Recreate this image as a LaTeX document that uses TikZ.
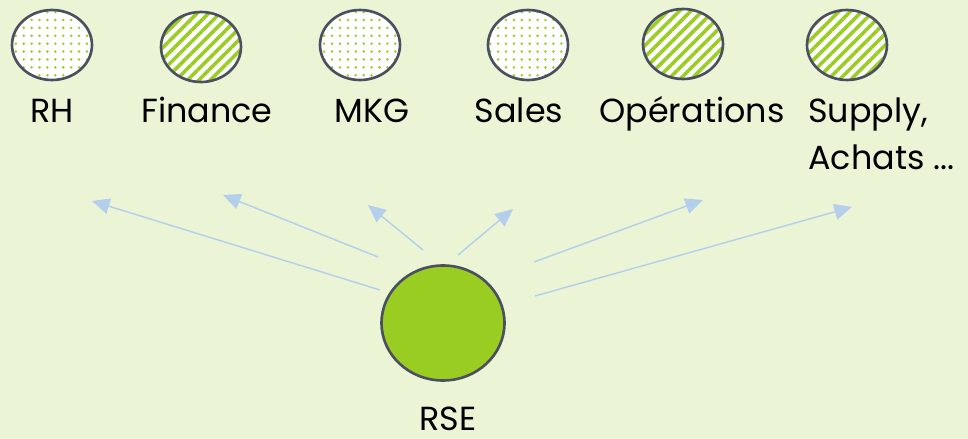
\documentclass[tikz,border=0pt]{standalone}
\usepackage{fontspec}
\setmainfont{Poppins}
\usetikzlibrary{shapes.geometric,positioning,arrows.meta,patterns.meta}
\definecolor{bgcol}{RGB}{235,245,213}
\definecolor{rsegreen}{RGB}{154,205,34}
\definecolor{rimgray}{RGB}{74,80,96}
\definecolor{arrowblue}{RGB}{180,207,236}
\tikzset{dept/.style={
			  ellipse,
			  draw            = rimgray,
			  line width      = 1.5pt,
			  minimum width   = 1.6cm,
			  minimum height  = 1.4cm,
			  inner sep       = 0pt,
			  preaction       = {fill=white}
			}}
\tikzset{dotted dept/.style={
			  dept,
			  pattern         = {Dots[distance=4.5pt, radius=0.8pt]},
			  pattern color   = rsegreen
			}}
\tikzset{striped dept/.style={
			  dept,
			  pattern         = {Lines[angle=45, distance=4.6pt, line width=2pt]},
			  pattern color   = rsegreen
			}}
\tikzset{rsebox/.style={
			  ellipse,
			  draw            = rimgray,
			  line width      = 1.5pt,
			  fill            = rsegreen,
			  minimum width   = 2.46cm,
			  minimum height  = 2.3cm,
			  inner sep       = 0pt
			}}
\tikzset{labeltext/.style={
			  font            = \fontsize{19}{27}\selectfont,
			  text            = black,
			  inner sep       = 0pt
			}}
\tikzset{arrowline/.style={
			  draw            = arrowblue,
			  line width      = 0.8pt,
			  -{Triangle[length=10pt, width=9pt]}
			}}
\begin{document}
\begin{tikzpicture}[x=0.02cm, y=-0.02cm]
    \fill[bgcol] (0,0) rectangle (968,439);
    \useasboundingbox (0,0) rectangle (968,439);

    \node (rh)        [dotted dept]  at (52,45)   {};
    \node (finance)   [striped dept] at (201,47)  {};
    \node (mkg)       [dotted dept]  at (360,45)  {};
    \node (sales)     [dotted dept]  at (528,45)  {};
    \node (ops)       [striped dept] at (683,44)  {};
    \node (supply)    [striped dept] at (847,45)  {};

    \node (rh-label)      [labeltext, anchor=base]      at (52,123)  {RH};
    \node (finance-label) [labeltext, anchor=base]      at (207,123) {Finance};
    \node (mkg-label)     [labeltext, anchor=base]      at (372,123) {MKG};
    \node (sales-label)   [labeltext, anchor=base]      at (519,123) {Sales};
    \node (ops-label)     [labeltext, anchor=base]      at (692,123) {Opérations};
    \node (supply-label)  [labeltext, anchor=base west] at (808,123) {Supply,};
    \node (achats-label)  [labeltext, anchor=base west] at (808,170) {Achats ...};

    \node (rse)       [rsebox] at (443,323) {};
    \node (rse-label) [labeltext, below=0.5cm of rse, xshift=0.1cm] {RSE};

    \coordinate (s1) at (380,290);  \coordinate (t1) at (92,201);
    \coordinate (s2) at (378,257);  \coordinate (t2) at (223,195);
    \coordinate (s3) at (423,250);  \coordinate (t3) at (368,205);
    \coordinate (s4) at (458,255);  \coordinate (t4) at (513,209);
    \coordinate (s5) at (534,262);  \coordinate (t5) at (703,200);
    \coordinate (s6) at (535,296);  \coordinate (t6) at (852,207);

    \draw [arrowline] (s1) to (t1);
    \draw [arrowline] (s2) to (t2);
    \draw [arrowline] (s3) to (t3);
    \draw [arrowline] (s4) to (t4);
    \draw [arrowline] (s5) to (t5);
    \draw [arrowline] (s6) to (t6);
\end{tikzpicture}
\end{document}
